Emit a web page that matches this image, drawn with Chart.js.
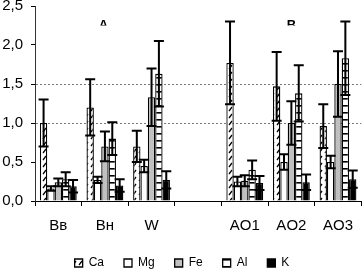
<!DOCTYPE html>
<html>
<head>
<meta charset="utf-8">
<script src="https://cdn.jsdelivr.net/npm/chart.js@4"></script>
<style>
html,body{margin:0;padding:0;background:#fff;}
canvas{display:block;}
</style>
</head>
<body>
<canvas id="c" width="364" height="274"></canvas>
<script>
const categories = ['Вв', 'Вн', 'W', '', 'AO1', 'AO2', 'AO3'];
const seriesNames = ['Ca', 'Mg', 'Fe', 'Al', 'K'];
const ca    = [1.00, 1.20, 0.70, null, 1.77, 1.47, 0.96];
const caErr = [0.30, 0.36, 0.20, null, 0.53, 0.44, 0.28];
const mg    = [0.16, 0.27, 0.45, null, 0.25, 0.50, 0.50];
const mgErr = [0.03, 0.04, 0.08, null, 0.06, 0.10, 0.08];
const fe    = [0.24, 0.70, 1.33, null, 0.26, 1.00, 1.50];
const feErr = [0.05, 0.19, 0.37, null, 0.07, 0.28, 0.42];
const al    = [0.28, 0.80, 1.63, null, 0.40, 1.38, 1.83];
const alErr = [0.09, 0.21, 0.42, null, 0.12, 0.36, 0.47];
const k     = [0.19, 0.20, 0.27, null, 0.23, 0.24, 0.28];
const kErr  = [0.08, 0.08, 0.11, null, 0.09, 0.10, 0.11];
const yTicks = [0, 0.5, 1.0, 1.5, 2.0, 2.5];
const gridValues = [1.0, 1.5];
const panelLabels = [{text: 'A', cat: 0.97}, {text: 'B', cat: 5.0}];

const FONT = "'Liberation Sans', Arial, sans-serif";

function makePattern(draw, w, h) {
  const c = document.createElement('canvas');
  c.width = w; c.height = h;
  const g = c.getContext('2d');
  g.fillStyle = '#fff';
  g.fillRect(0, 0, w, h);
  draw(g);
  return document.getElementById('c').getContext('2d').createPattern(c, 'repeat');
}
const caPattern = makePattern(g => {
  g.strokeStyle = '#000';
  g.lineWidth = 1.3;
  g.beginPath();
  g.moveTo(1, 6); g.lineTo(4, 2);
  g.stroke();
}, 6, 7);
const alPattern = makePattern(g => {
  g.fillStyle = '#000';
  g.fillRect(0, 0, 8, 1.6);
}, 8, 7);

const values = [ca, mg, fe, al, k];
const errors = [caErr, mgErr, feErr, alErr, kErr];
const fills = [caPattern, '#ffffff', '#c0c0c0', alPattern, '#000000'];

const errorBars = {
  id: 'errorBars',
  afterDatasetsDraw(chart) {
    const ctx = chart.ctx;
    const ys = chart.scales.y;
    ctx.save();
    ctx.strokeStyle = '#000';
    ctx.lineWidth = 2;
    chart.data.datasets.forEach((ds, i) => {
      const meta = chart.getDatasetMeta(i);
      meta.data.forEach((el, j) => {
        const v = ds.data[j], e = errors[i][j];
        if (v == null || e == null) return;
        const x = el.x;
        const yt = ys.getPixelForValue(v + e);
        const yb = ys.getPixelForValue(Math.max(0, v - e));
        const hw = 5;
        ctx.beginPath();
        ctx.moveTo(x, yb); ctx.lineTo(x, yt);
        ctx.moveTo(x - hw, yt); ctx.lineTo(x + hw, yt);
        ctx.moveTo(x - hw, yb); ctx.lineTo(x + hw, yb);
        ctx.stroke();
      });
    });
    // panel labels
    ctx.fillStyle = '#000';
    ctx.font = 'bold 13px ' + FONT;
    ctx.textAlign = 'center';
    ctx.textBaseline = 'alphabetic';
    const xs = chart.scales.x;
    const step = xs.getPixelForValue(1) - xs.getPixelForValue(0);
    panelLabels.forEach(p => {
      const base = Math.round(p.cat);
      const x = xs.getPixelForValue(base) + (p.cat - base) * step;
      ctx.save();
      ctx.beginPath();
      ctx.rect(x - 10, 0, 20, 25.5);
      ctx.clip();
      ctx.fillText(p.text, x, 28.5);
      ctx.restore();
    });
    ctx.restore();
  }
};

new Chart(document.getElementById('c'), {
  type: 'bar',
  data: {
    labels: categories,
    datasets: seriesNames.map((n, i) => ({
      label: n,
      data: values[i],
      backgroundColor: fills[i],
      borderColor: '#000',
      borderWidth: 1.3,
      categoryPercentage: 0.79,
      barPercentage: 1.0
    }))
  },
  options: {
    responsive: false,
    animation: false,
    devicePixelRatio: 1,
    layout: {padding: {top: 0, right: 0, left: 0, bottom: -5}},
    plugins: {
      tooltip: {enabled: false},
      legend: {
        position: 'bottom',
        labels: {
          color: '#000',
          font: {family: FONT, size: 12},
          boxWidth: 8,
          boxHeight: 8,
          padding: 20
        }
      }
    },
    scales: {
      x: {
        grid: {
          offset: true,
          drawOnChartArea: false,
          drawTicks: true,
          tickLength: 5,
          color: '#000',
          tickColor: '#000'
        },
        border: {display: true, color: '#000', width: 1},
        ticks: {color: '#000', font: {family: FONT, size: 15}, padding: 11, maxRotation: 0, autoSkip: false},
        afterFit(s) { s.height = 36; }
      },
      y: {
        min: 0, max: 2.5,
        afterBuildTicks(s) { s.ticks = yTicks.map(v => ({value: v})); },
        grid: {
          drawTicks: true,
          tickLength: 4,
          tickColor: '#000',
          color: c => gridValues.includes(c.tick && c.tick.value) ? '#777' : 'rgba(0,0,0,0)',
          lineWidth: 1
        },
        border: {display: true, color: '#333', width: 1, dash: [2, 2]},
        ticks: {
          color: '#000',
          font: {family: FONT, size: 15},
          padding: 8,
          callback: v => v.toFixed(1).replace('.', ',')
        },
        afterFit(s) { s.width = 35; s.paddingTop = 6; s.paddingBottom = 0; }
      }
    }
  },
  plugins: [errorBars]
});
</script>
</body>
</html>
